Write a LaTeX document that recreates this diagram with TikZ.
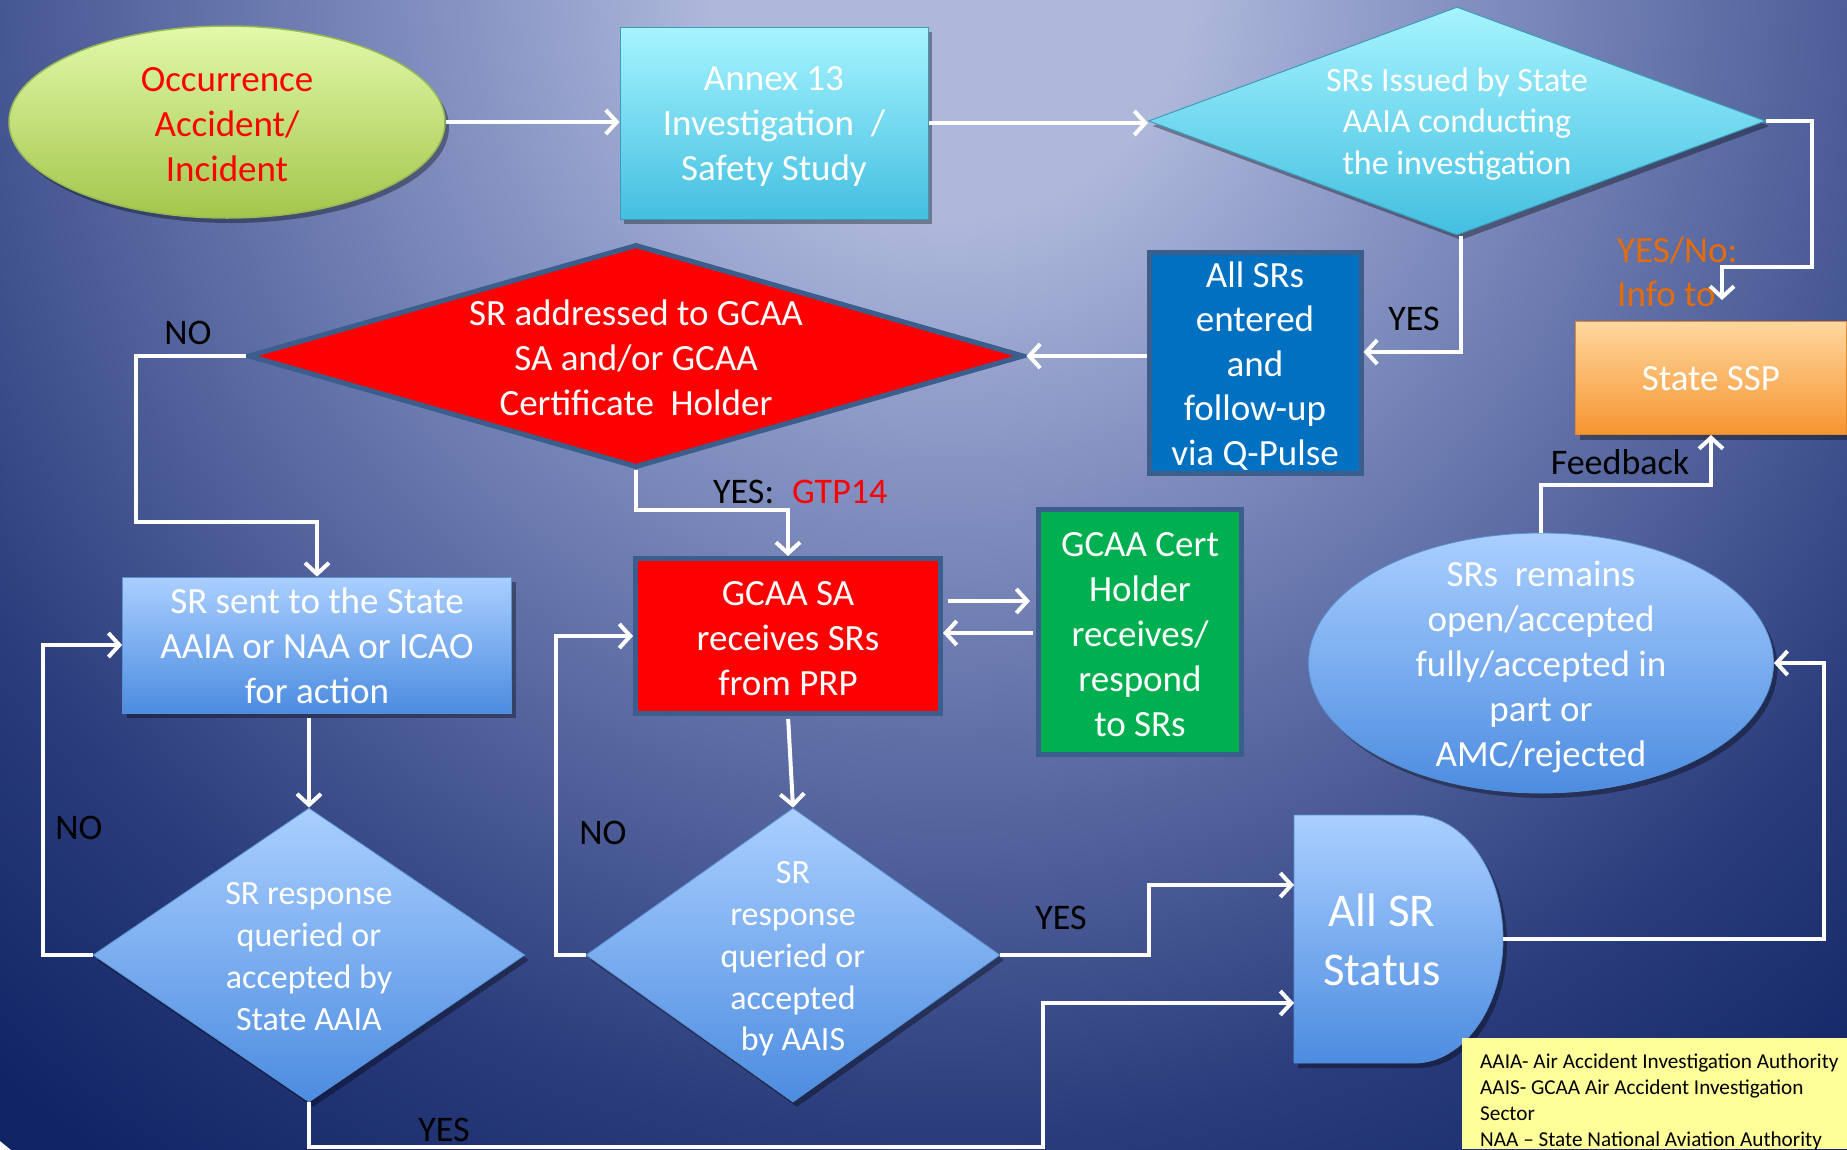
\documentclass[tikz,border=0pt]{standalone}
\usepackage{fontspec}
\setmainfont{Carlito}
\usetikzlibrary{shapes.geometric,arrows.meta,calc,shadows}
\definecolor{bgA}{HTML}{AEB8DB}
\definecolor{bgB}{HTML}{8592C2}
\definecolor{bgC}{HTML}{4C5D98}
\definecolor{bgD}{HTML}{2A3C7B}
\definecolor{bgE}{HTML}{112465}
\definecolor{grT}{HTML}{E2F9A9}
\definecolor{grB}{HTML}{A3C64C}
\definecolor{grD}{HTML}{98B954}
\definecolor{cyT}{HTML}{A6F4FF}
\definecolor{cyB}{HTML}{43BFE0}
\definecolor{cyD}{HTML}{3E9CB8}
\definecolor{lbT}{HTML}{AACFFF}
\definecolor{lbB}{HTML}{4C8CE0}
\definecolor{lbD}{HTML}{5A8FD0}
\definecolor{orT}{HTML}{FFD79E}
\definecolor{orB}{HTML}{F69530}
\definecolor{orD}{HTML}{E08A2C}
\definecolor{sblue}{HTML}{0070C0}
\definecolor{bord}{HTML}{3B5E8C}
\definecolor{ggreen}{HTML}{00B050}
\definecolor{legY}{HTML}{FFFF99}
\definecolor{orng}{HTML}{E46C0A}
\pgfdeclareradialshading{bgsh}{\pgfpoint{0bp}{0bp}}{color(0bp)=(bgA); color(4bp)=(bgA); color(8.3bp)=(bgB); color(15bp)=(bgC); color(19.2bp)=(bgD); color(24.2bp)=(bgE); color(50bp)=(bgE)}
\tikzset{
  conn/.style={draw=white, line width=4pt, -{Straight Barb[length=11pt,width=24pt]}},
  txtW/.style={text=white, align=center, inner sep=0pt, font=\fontsize{37}{45}\selectfont},
  lbl/.style={text=black, inner sep=0pt, font=\fontsize{36}{43}\selectfont},
  shad/.style={drop shadow={shadow xshift=4pt, shadow yshift=-5pt, opacity=0.35, fill=black}},
  cyanbox/.style={top color=cyT, bottom color=cyB, draw=cyD, line width=1pt, shad},
  bluebox/.style={top color=lbT, bottom color=lbB, draw=lbD, line width=0.8pt, shad},
  darkbord/.style={draw=bord, line width=5pt},
}
\begin{document}
\begin{tikzpicture}[x=1pt,y=-1pt]
\useasboundingbox (0,0) rectangle (1847,1149);
\begin{scope}
\clip (0,0) rectangle (1847,1149);
\shade[shading=bgsh] (950,-20) circle[radius=1500];
\end{scope}

% ---- shapes ----
\node[ellipse, minimum width=436pt, minimum height=192pt, inner sep=0pt, top color=grT, bottom color=grB, draw=grD, line width=1.5pt, shad] (occ) at (227,122) {};
\node[txtW, text=red] (occT) at (227,125) {Occurrence\\Accident/\\Incident};

\node[rectangle, cyanbox, minimum width=308pt, minimum height=192pt] (annex) at (774,123) {};
\node[txtW] (annexT) at (774,126) {Annex 13\\Investigation\ \ /\\Safety Study};

\node[diamond, cyanbox, minimum width=617pt, minimum height=228pt, inner sep=0pt] (sri) at (1457,121) {};
\node[txtW, font=\fontsize{34}{41.5}\selectfont] (sriT) at (1457,124) {SRs Issued by State\\AAIA conducting\\the investigation};

\node[rectangle, fill=sblue, darkbord, minimum width=212pt, minimum height=221pt] (allsr) at (1255,363) {};
\node[txtW, font=\fontsize{37}{44.5}\selectfont] (allsrT) at (1255,366) {All SRs\\entered\\and\\follow-up\\via Q-Pulse};

\node[diamond, fill=red, darkbord, minimum width=776pt, minimum height=223pt, inner sep=0pt] (red) at (636,356) {};
\node[txtW] (redT) at (636,358) {SR addressed to GCAA\\SA and/or GCAA\\Certificate\ \ Holder};

\node[rectangle, top color=orT, bottom color=orB, draw=orD, line width=1pt, shad, minimum width=271pt, minimum height=113pt] (ssp) at (1711,378) {};
\node[txtW] (sspT) at (1711,379) {State SSP};

\node[rectangle, bluebox, minimum width=389pt, minimum height=136pt] (srsent) at (317,645) {};
\node[txtW] (srsentT) at (317,646) {SR sent to the State\\AAIA or NAA or ICAO\\for action};

\node[rectangle, fill=red, darkbord, minimum width=305pt, minimum height=155pt] (gsa) at (788,636) {};
\node[txtW] (gsaT) at (788,639) {GCAA SA\\receives SRs\\from PRP};

\node[rectangle, fill=ggreen, darkbord, minimum width=203pt, minimum height=245pt] (gch) at (1140,632) {};
\node[txtW] (gchT) at (1140,635) {GCAA Cert\\Holder\\receives/\\respond\\to SRs};

\node[ellipse, bluebox, minimum width=465pt, minimum height=260pt, inner sep=0pt] (rem) at (1541,663) {};
\node[txtW] (remT) at (1541,667) {SRs\ \ remains\\open/accepted\\fully/accepted in\\part or\\AMC/rejected};

\node[diamond, bluebox, minimum width=432pt, minimum height=294pt, inner sep=0pt] (dl) at (309,955) {};
\node[txtW, font=\fontsize{34}{42}\selectfont] (dlT) at (309,957) {SR response\\queried or\\accepted by\\State AAIA};

\node[diamond, bluebox, minimum width=414pt, minimum height=294pt, inner sep=0pt] (dm) at (793,955) {};
\node[txtW, font=\fontsize{34}{41.7}\selectfont] (dmT) at (793,959) {SR\\response\\queried or\\accepted\\by AAIS};

\path[bluebox] (1294,815) -- (1414,815) arc[start angle=-90, end angle=90, x radius=89, y radius=124] -- (1294,1063) -- cycle;
\node[minimum width=209pt, minimum height=248pt, inner sep=0pt, outer sep=0pt] (status) at (1398.5,939) {};
\node[txtW, font=\fontsize{47}{59}\selectfont] (statusT) at (1382,940) {All SR\\Status};

\node[rectangle, fill=legY, minimum width=385pt, minimum height=111pt, anchor=north west, inner sep=0pt] (leg) at (1462,1038) {};
\node[anchor=north west, align=left, inner sep=0pt, text=black, font=\fontsize{21.2}{25.8}\selectfont] (legT) at (1480,1054) {AAIA- Air Accident Investigation Authority\\AAIS- GCAA Air Accident Investigation\\Sector\\NAA – State National Aviation Authority};

% ---- connectors ----
\coordinate (infoTip) at (1722,300);
\draw[conn] (occ.east) -- (occ.east -| annex.west);
\draw[conn] (annex.east) -- (annex.east -| sri.west);
\draw[conn] (sri.east) -- ++(46,0) |- ($(infoTip)+(0,-33)$) -- (infoTip);
\draw[conn] ([xshift=4pt]sri.south) |- ([yshift=11pt]allsr.east);
\draw[conn] (allsr.west |- red.east) -- (red.east);
\draw[conn] (red.west) -- ++(-110,0) |- ($(srsent.north)+(0,-55)$) -- (srsent.north);
\draw[conn] (red.south) |- ($(gsa.north)+(0,-46)$) -- (gsa.north);
\draw[conn, shorten <=5pt, shorten >=6pt] ([yshift=35pt]gsa.east) -- ([yshift=35pt]gsa.east -| gch.west);
\draw[conn, shorten <=3pt] ([yshift=-1pt]gch.west) -- ([yshift=-1pt]gch.west -| gsa.east);
\draw[conn, shorten <=5pt] ([xshift=-8pt]srsent.south) -- ([xshift=-8pt]srsent.south |- dl.north);
\draw[conn, shorten <=3pt] (gsa.south) -- (dm.north);
\draw[conn] (dl.west) -- ++(-50,0) |- (srsent.west);
\draw[conn] (dm.west) -- ++(-30,0) |- (gsa.west);
\draw[conn] (dm.east) -- ++(149,0) |- ($(status.west)+(0,-54)$);
\draw[conn] (dl.south) -- ++(0,45) -| ($(status.west)+(-251,64)$) -- ($(status.west)+(0,64)$);
\draw[conn] (status.east) -- ++(321,0) |- (rem.east);
\draw[conn] (rem.north) -- ++(0,-48) -| (ssp.south);

% ---- labels ----
\node[lbl] (noA) at (188,333) {NO};
\node[lbl] (yesA) at (1414,319) {YES};
\node[lbl, anchor=west] (yesB) at (713,492) {YES:\hspace{18pt}\textcolor{red}{GTP14}};
\node[lbl] (noB) at (79,828) {NO};
\node[lbl] (noC) at (603,833) {NO};
\node[lbl] (yesC) at (1061,918) {YES};
\node[lbl] (yesD) at (444,1130) {YES};
\node[lbl] (fb) at (1620,462) {Feedback};
\node[lbl, text=orng, anchor=west, align=left, font=\fontsize{37}{44}\selectfont] (yn) at (1617,272) {YES/No:\\Info to};
\end{tikzpicture}
\end{document}
